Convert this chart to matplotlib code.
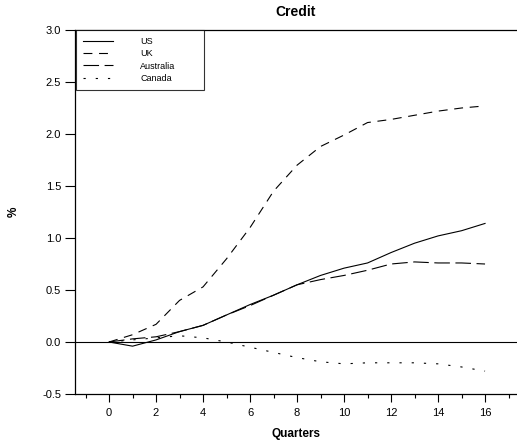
import numpy as np
import matplotlib
matplotlib.use("Agg")
import matplotlib.pyplot as plt
from matplotlib.ticker import MultipleLocator

plt.rcParams["font.family"] = ["Liberation Sans", "DejaVu Sans"]

quarters = list(range(17))
us = [0.0, -0.04, 0.02, 0.10, 0.16, 0.26, 0.36, 0.45, 0.55, 0.64, 0.71, 0.76, 0.86, 0.95, 1.02, 1.07, 1.14]
uk = [0.0, 0.07, 0.17, 0.40, 0.53, 0.80, 1.10, 1.45, 1.70, 1.88, 1.99, 2.11, 2.14, 2.18, 2.22, 2.25, 2.27]
australia = [0.0, 0.03, 0.05, 0.10, 0.16, 0.26, 0.35, 0.45, 0.55, 0.60, 0.64, 0.69, 0.75, 0.77, 0.76, 0.76, 0.75]
canada = [0.0, 0.02, 0.04, 0.06, 0.04, 0.0, -0.05, -0.10, -0.15, -0.19, -0.21, -0.20, -0.20, -0.20, -0.21, -0.24, -0.28]

fig = plt.figure(figsize=(5.17, 4.45), dpi=100)
ax = fig.add_axes([0.145, 0.1146, 0.855, 0.818])

lw = 0.8
ax.plot(quarters, us, color="black", lw=lw, ls="-", label="US")
ax.plot(quarters, uk, color="black", lw=lw, ls=(0, (8, 6)), label="UK")
ax.plot(quarters, australia, color="black", lw=lw, ls=(0, (14, 5)), label="Australia")
ax.plot(quarters, canada, color="black", lw=lw, ls=(0, (2, 9)), label="Canada")
ax.axhline(0, color="black", lw=0.8)

ax.set_xlim(-1.45, 17.36)
ax.set_ylim(-0.5, 3.0)
ax.set_xticks(range(0, 17, 2))
ax.xaxis.set_minor_locator(MultipleLocator(1))
ax.set_yticks(np.arange(-0.5, 3.01, 0.5))
ax.set_yticklabels([f"{v:.1f}" for v in np.arange(-0.5, 3.01, 0.5)])
ax.tick_params(axis="y", which="major", labelsize=8, length=7, width=0.8, pad=3)
ax.tick_params(axis="x", which="major", labelsize=8, length=6, width=0.8, pad=4)
ax.tick_params(axis="x", which="minor", length=3, width=0.8)
ax.spines["right"].set_visible(False)
for s in ["left", "bottom", "top"]:
    ax.spines[s].set_linewidth(0.9)

ax.set_title("Credit", fontsize=10, fontweight="bold", pad=10)
ax.set_xlabel("Quarters", fontsize=8.5, fontweight="bold", labelpad=7)
ax.set_ylabel("%", fontsize=8.5, fontweight="bold", labelpad=16)

leg = ax.legend(loc="upper left", bbox_to_anchor=(0.002, 1.0, 0.29, 0), mode="expand",
                fontsize=6.5, frameon=True, fancybox=False, edgecolor="black",
                handlelength=3.4, handletextpad=3.0, borderpad=0.75,
                labelspacing=0.38, borderaxespad=0.0)
leg.get_frame().set_linewidth(0.8)

fig.savefig("out.png", dpi=100)
